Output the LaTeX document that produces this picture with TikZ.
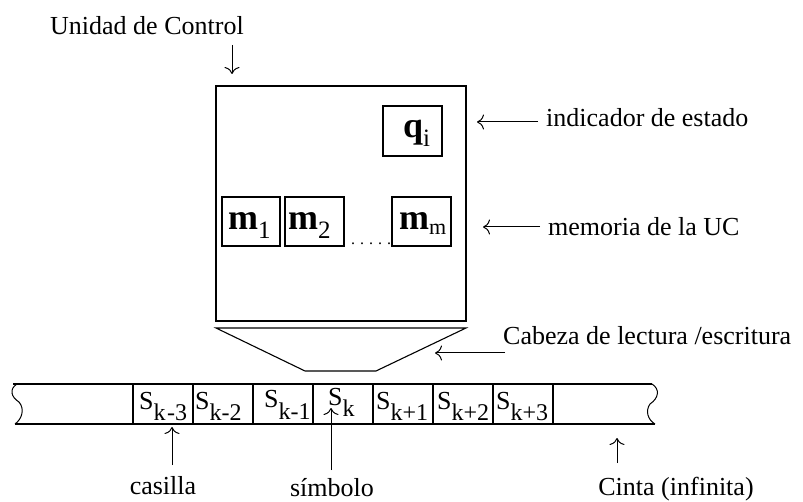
\documentclass[tikz,border=0pt]{standalone}
\usepackage{fontspec}
\setmainfont{Liberation Serif}
\usetikzlibrary{arrows.meta}
\newcommand\txtsize{\fontsize{26}{30}\selectfont}
\newcommand\subsize{\fontsize{24}{28}\selectfont}
\newcommand\bigbold{\fontsize{36}{40}\selectfont\bfseries}
\newcommand\memsub[1]{\raisebox{-9pt}{\fontsize{25}{28}\selectfont\mdseries #1}}
\newcommand\tapesym[1]{S\raisebox{-12pt}{\subsize #1}}
\begin{document}
\begin{tikzpicture}[x=1pt,y=-1pt,
  lbl/.style={font=\txtsize, inner sep=0pt},
  arr/.style={line width=1pt, -{To[length=7pt,width=15pt]}},
  cell/.style={draw, line width=1.3pt, minimum width=60pt, minimum height=40pt, inner sep=0pt},
  membox/.style={draw, line width=1.3pt, inner sep=0pt},
  sym/.style={font=\txtsize, inner sep=0pt, anchor=base west}]
\useasboundingbox (0,0) rectangle (803,502);

% control unit
\node[draw, line width=1.8pt, minimum width=250pt, minimum height=235pt, inner sep=0pt] (uc) at (341,203.5) {};

% state indicator
\node[membox, minimum width=59pt, minimum height=50pt] (qbox) at (412.5,131) {};
\node[sym] (q) at (403,138) {\bigbold q\memsub{i}};

% memory cells
\node[membox, minimum width=58pt, minimum height=49pt] (m1box) at (251,221.5) {};
\node[membox, minimum width=59pt, minimum height=49pt] (m2box) at (314.5,221.5) {};
\node[membox, minimum width=59pt, minimum height=49pt] (mmbox) at (421.5,221.5) {};
\node[sym] (m1) at (228,230) {\bigbold m\memsub{1}};
\node[sym] (m2) at (288,230) {\bigbold m\memsub{2}};
\node[sym] (mm) at (399,230) {\bigbold m\raisebox{-5pt}{\fontsize{22}{24}\selectfont\mdseries m}};
\node[inner sep=0pt, anchor=base west] (dots) at (351,245)
  {\fontsize{16}{16}\selectfont .\kern5pt.\kern5pt.\kern5pt.\kern5pt.};

% read/write head
\draw[line width=1.1pt] (216,328) -- (466,328) -- (376,371) -- (305,371) -- cycle;

% tape
\draw[line width=1.3pt] (13,384) -- (652,384);
\draw[line width=1.3pt] (15,424) -- (655,424);
\draw[line width=1pt] (17,384) .. controls (9,389) and (11,397) .. (19,402)
  .. controls (25,409) and (22,419) .. (15,424);
\draw[line width=1pt] (652,384) .. controls (660,389) and (659,398) .. (650,404)
  .. controls (645,411) and (648,420) .. (655,424);
\foreach \i in {0,...,6} \node[cell] (c\i) at ({163+60*\i},404) {};

\node[sym] (s0) at (139,409) {\tapesym{k\kern1.5pt-3}};
\node[sym] (s1) at (195,409) {\tapesym{k-2}};
\node[sym] (s2) at (264,407) {\tapesym{k-1}};
\node[sym] (s3) at (328,405) {\tapesym{k}};
\node[sym] (s4) at (376,409) {\tapesym{k+1}};
\node[sym] (s5) at (437,409) {\tapesym{k+2}};
\node[sym] (s6) at (496,409) {\tapesym{k+3}};

% labels
\node[lbl, anchor=base west] (uclbl) at (50,35) {Unidad de Control};
\node[lbl, anchor=base west] (ind) at (546,127) {indicador de estado};
\node[lbl, anchor=base west] (mem) at (548,236) {memoria de la UC};
\node[lbl, anchor=base west] (head) at (503,345) {Cabeza de lectura /escritura};
\node[lbl, anchor=base] (cas) at (163,494) {casilla};
\node[lbl, anchor=base] (simb) at (332,496) {símbolo};
\node[lbl, anchor=base] (cinta) at (676,495) {Cinta (infinita)};

% arrow end points
\coordinate (ucA) at (232,45);   \coordinate (ucB) at (232,74);
\coordinate (indA) at (538,122); \coordinate (indB) at (477,122);
\coordinate (memA) at (540,227); \coordinate (memB) at (483,227);
\coordinate (headA) at (505,353); \coordinate (headB) at (435,353);
\coordinate (casA) at (172,465); \coordinate (casB) at (172,427);
\coordinate (simA) at (331,470); \coordinate (simB) at (331,408);
\coordinate (cinA) at (617,463); \coordinate (cinB) at (617,438);

\draw[arr] (ucA) -- (ucB);
\draw[arr] (indA) -- (indB);
\draw[arr] (memA) -- (memB);
\draw[arr] (headA) -- (headB);
\draw[arr] (casA) -- (casB);
\draw[arr] (simA) -- (simB);
\draw[arr] (cinA) -- (cinB);
\end{tikzpicture}
\end{document}
